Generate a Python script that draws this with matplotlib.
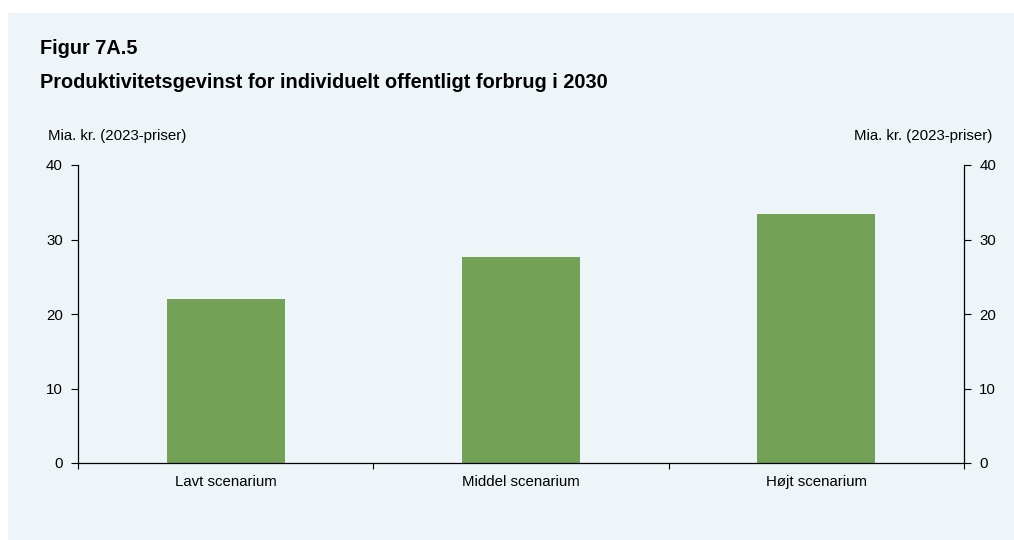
import matplotlib.pyplot as plt
from matplotlib.patches import Rectangle

plt.rcParams['font.family'] = ['Liberation Sans', 'DejaVu Sans']

categories = ["Lavt scenarium", "Middel scenarium", "Højt scenarium"]
values = [22.0, 27.7, 33.4]
yticks = [0, 10, 20, 30, 40]

bg = "#eef5f9"
green = "#73a257"

fig = plt.figure(figsize=(10.14, 5.4), dpi=100)
fig.patch.set_facecolor("white")
fig.patches.append(Rectangle((8 / 1014, 0), 1 - 8 / 1014, 527 / 540,
                             transform=fig.transFigure, facecolor=bg,
                             edgecolor="none", zorder=-10))

ax = fig.add_axes([78 / 1014, 77 / 540, 886 / 1014, 298 / 540])
ax.set_facecolor("none")
x = range(len(categories))
ax.bar(x, values, width=0.4, color=green, zorder=2)

ax.set_xlim(-0.5, len(categories) - 0.5)
ax.set_ylim(0, 40)
ax.set_yticks(yticks)
ax.set_xticks(list(x))
ax.set_xticklabels(categories)
for lbl in ax.get_xticklabels():
    lbl.set_va("baseline")
ax.set_xticks([i - 0.5 for i in range(len(categories) + 1)], minor=True)
ax.tick_params(axis="x", which="major", length=0, pad=16.5, labelsize=10.8)
ax.tick_params(axis="x", which="minor", length=4, direction="out", width=0.8)
ax.tick_params(axis="y", length=5, width=0.8, labelsize=10.8, pad=6,
               left=True, right=True, labelleft=True, labelright=True)

for s in ["left", "right", "bottom"]:
    ax.spines[s].set_linewidth(0.9)
ax.spines["top"].set_visible(False)

fig.text(40 / 1014, 1 - 48 / 540, "Figur 7A.5", fontsize=14.3,
         fontweight="bold", va="center", ha="left")
fig.text(40 / 1014, 1 - 83 / 540,
         "Produktivitetsgevinst for individuelt offentligt forbrug i 2030",
         fontsize=14.3, fontweight="bold", va="center", ha="left")
fig.text(48 / 1014, 1 - 136 / 540, "Mia. kr. (2023-priser)", fontsize=10.8,
         va="center", ha="left")
fig.text(992 / 1014, 1 - 136 / 540, "Mia. kr. (2023-priser)", fontsize=10.8,
         va="center", ha="right")

fig.savefig("out.png", dpi=100, facecolor=fig.get_facecolor())
